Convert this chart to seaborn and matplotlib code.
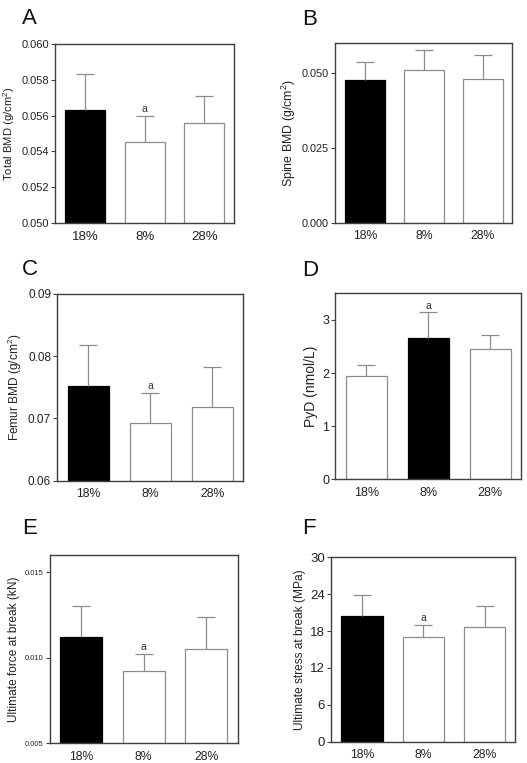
import numpy as np
import pandas as pd
import matplotlib
matplotlib.use("Agg")
import matplotlib.pyplot as plt
from matplotlib.ticker import FormatStrFormatter
import seaborn as sns

sns.set_style("white")
plt.rcParams['font.family'] = ['Liberation Sans', 'DejaVu Sans']
plt.rcParams['mathtext.default'] = 'regular'

# groups (protein level)
groups = ["18%", "8%", "28%"]

# panel A - total BMD
total_bmd = [0.0563, 0.0545, 0.0556]
total_bmd_err = [0.0020, 0.0015, 0.0015]
# panel B - spine BMD
spine_bmd = [0.0477, 0.0508, 0.0480]
spine_bmd_err = [0.0058, 0.0067, 0.0079]
# panel C - femur BMD
femur_bmd = [0.0752, 0.0692, 0.0718]
femur_bmd_err = [0.0066, 0.0049, 0.0064]
# panel D - PyD
pyd = [1.95, 2.66, 2.45]
pyd_err = [0.21, 0.48, 0.26]
# panel E - ultimate force
force = [0.0112, 0.0092, 0.0105]
force_err = [0.0018, 0.0010, 0.0019]
# panel F - ultimate stress
stress = [20.4, 17.0, 18.7]
stress_err = [3.5, 2.0, 3.3]

# which bar is black in each panel, and which has the "a" mark
panels = [
    dict(letter="A", vals=total_bmd, err=total_bmd_err, black="18%", mark="8%",
         ylabel="Total BMD (g/cm$^2$)", ylim=(0.050, 0.060),
         yticks=[0.050, 0.052, 0.054, 0.056, 0.058, 0.060], fmt="%.3f",
         pos=[0.1044, 0.7077, 0.3397, 0.2346], tfs=8, lfs=8.1, xfs=9.5),
    dict(letter="B", vals=spine_bmd, err=spine_bmd_err, black="18%", mark=None,
         ylabel="Spine BMD (g/cm$^2$)", ylim=(0, 0.060),
         yticks=[0, 0.025, 0.050], fmt="%.3f",
         pos=[0.6363, 0.7081, 0.3359, 0.2359], tfs=7.8, lfs=8.9, xfs=8.8),
    dict(letter="C", vals=femur_bmd, err=femur_bmd_err, black="18%", mark="8%",
         ylabel="Femur BMD (g/cm$^2$)", ylim=(0.06, 0.09),
         yticks=[0.06, 0.07, 0.08, 0.09], fmt="%.2f",
         pos=[0.1087, 0.3700, 0.3530, 0.2447], tfs=8.5, lfs=8.6, xfs=8.8),
    dict(letter="D", vals=pyd, err=pyd_err, black="8%", mark="8%",
         ylabel="PyD (nmol/L)", ylim=(0, 3.5),
         yticks=[0, 1, 2, 3], fmt="%d",
         pos=[0.6363, 0.3718, 0.3530, 0.2438], tfs=9, lfs=10, xfs=9),
    dict(letter="E", vals=force, err=force_err, black="18%", mark="8%",
         ylabel="Ultimate force at break (kN)", ylim=(0.005, 0.016),
         yticks=[0.005, 0.010, 0.015], fmt="%.3f",
         pos=[0.0943, 0.0262, 0.3567, 0.2464], tfs=5.5, lfs=8.6, xfs=8.8),
    dict(letter="F", vals=stress, err=stress_err, black="18%", mark="8%",
         ylabel="Ultimate stress at break (MPa)", ylim=(0, 30),
         yticks=[0, 6, 12, 18, 24, 30], fmt="%d",
         pos=[0.6287, 0.0279, 0.3491, 0.2417], tfs=9.5, lfs=8.6, xfs=8.8),
]

fig = plt.figure(figsize=(5.27, 7.63), dpi=100)

for p in panels:
    ax = fig.add_axes(p["pos"])
    df = pd.DataFrame({"group": groups, "value": p["vals"], "err": p["err"]})
    pal = {g: ("black" if g == p["black"] else "white") for g in groups}
    sns.barplot(data=df, x="group", y="value", hue="group", palette=pal,
                order=groups, width=0.67, errorbar=None, legend=False,
                linewidth=0.9, ax=ax)
    for patch, g in zip(ax.patches, groups):
        patch.set_edgecolor("black" if g == p["black"] else "#8c8c8c")
    eb = ax.errorbar(np.arange(len(groups)), df["value"],
                     yerr=[np.zeros(len(groups)), df["err"]], fmt="none",
                     ecolor="#8c8c8c", elinewidth=0.9, capsize=6.5,
                     capthick=0.9, zorder=1)
    eb[1][0].set_visible(False)  # no cap at the bar top
    if p["mark"] is not None:
        i = groups.index(p["mark"])
        span = p["ylim"][1] - p["ylim"][0]
        ax.text(i, p["vals"][i] + p["err"][i] + span * 0.01, "a",
                ha="center", va="bottom", fontsize=7.5, color="#333333")
    ax.set_xlim(-0.5, 2.5)
    ax.set_ylim(*p["ylim"])
    ax.set_yticks(p["yticks"])
    ax.yaxis.set_major_formatter(FormatStrFormatter(p["fmt"]))
    ax.set_xlabel("")
    ax.set_ylabel(p["ylabel"], fontsize=p["lfs"], color="#222222", labelpad=3)
    ax.tick_params(axis="y", which="major", left=True, length=3, width=0.8,
                   color="#404040", labelsize=p["tfs"], pad=1.5,
                   labelcolor="#222222")
    ax.tick_params(axis="x", bottom=False, labelsize=p["xfs"], pad=2,
                   labelcolor="#222222")
    for s in ax.spines.values():
        s.set_visible(True)
        s.set_color("#404040")
        s.set_linewidth(1.0)
    # panel letter
    x0 = 22 / 527 if p["letter"] in "ACE" else 302 / 527
    ytop = {"A": 8, "B": 9, "C": 259, "D": 260, "E": 518, "F": 518}[p["letter"]]
    fig.text(x0, 1 - ytop / 763, p["letter"], fontsize=16, ha="left", va="top",
             color="#111111")

fig.savefig("out.png", dpi=100)
